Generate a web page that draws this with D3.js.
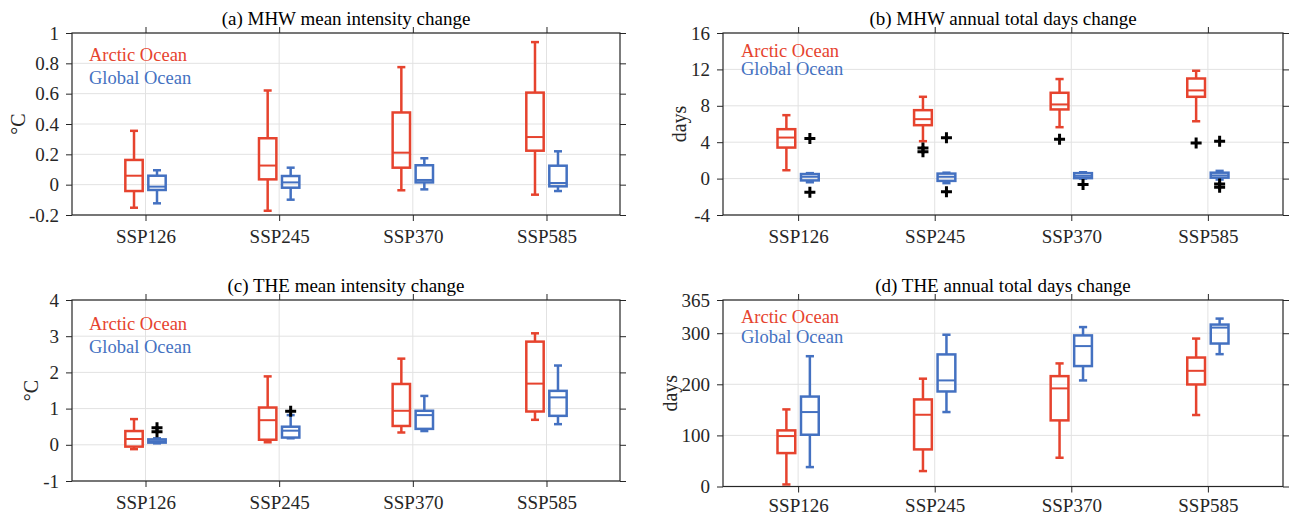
<!DOCTYPE html>
<html>
<head>
<meta charset="utf-8">
<script src="https://cdn.jsdelivr.net/npm/d3@7"></script>
<style>
  body { margin: 0; background: #fff; }
  svg text { font-family: "Liberation Serif", "Times New Roman", serif; }
</style>
</head>
<body>
<svg id="chart" width="1290" height="516"></svg>
<script>
"use strict";
// scenarios on the x axis
var scenarios = ["SSP126", "SSP245", "SSP370", "SSP585"];
var seriesNames = ["Arctic Ocean", "Global Ocean"];

// box stats per scenario: [low whisker, q1, median, q3, high whisker]
var mhwIntArctic = [[-0.152, -0.042, 0.059, 0.163, 0.355], [-0.172, 0.035, 0.126, 0.306, 0.621],
  [-0.037, 0.112, 0.211, 0.476, 0.775], [-0.066, 0.224, 0.314, 0.607, 0.94]];
var mhwIntGlobal = [[-0.123, -0.035, -0.013, 0.059, 0.095], [-0.099, -0.02, 0.015, 0.057, 0.112],
  [-0.031, 0.015, 0.031, 0.128, 0.174], [-0.042, -0.011, 0.011, 0.125, 0.22]];

var mhwDaysArctic = [[0.92, 3.41, 4.51, 5.43, 6.97], [4.11, 5.87, 6.53, 7.52, 8.99],
  [5.65, 7.6, 8.15, 9.43, 10.94], [6.3, 8.99, 9.69, 11.0, 11.85]];
var mhwDaysGlobal = [[-0.4, -0.2, 0.2, 0.5, 0.6], [-0.5, -0.25, 0.2, 0.55, 0.65],
  [0.0, 0.05, 0.3, 0.6, 0.7], [-0.1, 0.1, 0.35, 0.65, 0.85]];
var mhwDaysArcticOut = [[], [3.35, 2.95], [4.33], [3.9]];
var mhwDaysGlobalOut = [[4.4, -1.5], [4.5, -1.45], [-0.65], [4.1, -0.6, -0.95]];

var theIntArctic = [[-0.12, -0.05, 0.16, 0.38, 0.71], [0.07, 0.14, 0.68, 1.03, 1.89],
  [0.34, 0.52, 0.94, 1.68, 2.38], [0.69, 0.92, 1.69, 2.85, 3.08]];
var theIntGlobal = [[0.04, 0.06, 0.1, 0.15, 0.18], [0.18, 0.2, 0.39, 0.5, 0.82],
  [0.38, 0.44, 0.82, 0.94, 1.35], [0.57, 0.8, 1.31, 1.49, 2.19]];
var theIntGlobalOut = [[0.47, 0.36], [0.93], [], []];

var theDaysArctic = [[4, 65.4, 98.7, 109.8, 150.9], [30.2, 72.6, 140.4, 170.4, 211],
  [56.3, 129.4, 192, 216, 240.9], [139.9, 199.7, 226.4, 252.4, 289.5]];
var theDaysGlobal = [[38, 101.3, 145.7, 176, 255], [145.7, 186, 207.6, 258.5, 297],
  [207.6, 235.7, 274.8, 295.7, 312], [259, 279.8, 311, 316.9, 328.6]];

// tick labels
var ticksA = [-0.2, 0, 0.2, 0.4, 0.6, 0.8, 1], labelsA = ["-0.2", "0", "0.2", "0.4", "0.6", "0.8", "1"];
var ticksB = [-4, 0, 4, 8, 12, 16], labelsB = ["-4", "0", "4", "8", "12", "16"];
var ticksC = [-1, 0, 1, 2, 3, 4], labelsC = ["-1", "0", "1", "2", "3", "4"];
var ticksD = [0, 100, 200, 300, 365], labelsD = ["0", "100", "200", "300", "365"];

var red = "#E6432E", blue = "#4471C1", axisC = "#262626", gridC = "#e2e2e2";

var panels = [
  {title: "(a) MHW mean intensity change", ylab: "\u00B0C", x0: 72, x1: 620, y0: 33, y1: 215,
   dom: [-0.2, 1], ticks: ticksA, labels: labelsA, arctic: mhwIntArctic, global: mhwIntGlobal,
   aOut: null, gOut: null, leg: [89, 61, 84], ylx: 18, pad: 9},
  {title: "(b) MHW annual total days change", ylab: "days", x0: 723, x1: 1283, y0: 33, y1: 215,
   dom: [-4, 16], ticks: ticksB, labels: labelsB, arctic: mhwDaysArctic, global: mhwDaysGlobal,
   aOut: mhwDaysArcticOut, gOut: mhwDaysGlobalOut, leg: [741, 57, 75], ylx: 679, pad: 9},
  {title: "(c) THE mean intensity change", ylab: "\u00B0C", x0: 72, x1: 620, y0: 300, y1: 481,
   dom: [-1, 4], ticks: ticksC, labels: labelsC, arctic: theIntArctic, global: theIntGlobal,
   aOut: null, gOut: theIntGlobalOut, leg: [89, 330, 353], ylx: 31, pad: 9},
  {title: "(d) THE annual total days change", ylab: "days", x0: 723, x1: 1283, y0: 300, y1: 486.5,
   dom: [0, 365], ticks: ticksD, labels: labelsD, arctic: theDaysArctic, global: theDaysGlobal,
   aOut: null, gOut: null, leg: [741, 323, 343], ylx: 670, pad: 6}
];

var svg = d3.select("#chart");
var offset = 0.086, boxW = 0.13, capW = 0.06;

function drawBoxes(g, x, y, stats, outs, dx, color) {
  stats.forEach(function(s, i) {
    var cx = x(i + 1 + dx);
    var bw = x(boxW) - x(0), cw = x(capW) - x(0);
    var b = g.append("g").attr("stroke", color).attr("stroke-width", 2.5).attr("fill", "none");
    b.append("line").attr("x1", cx).attr("x2", cx).attr("y1", y(s[3])).attr("y2", y(s[4]));
    b.append("line").attr("x1", cx).attr("x2", cx).attr("y1", y(s[1])).attr("y2", y(s[0]));
    b.append("line").attr("x1", cx - cw / 2).attr("x2", cx + cw / 2).attr("y1", y(s[4])).attr("y2", y(s[4]));
    b.append("line").attr("x1", cx - cw / 2).attr("x2", cx + cw / 2).attr("y1", y(s[0])).attr("y2", y(s[0]));
    b.append("rect").attr("x", cx - bw / 2).attr("width", bw)
      .attr("y", y(s[3])).attr("height", Math.max(0, y(s[1]) - y(s[3])));
    b.append("line").attr("x1", cx - bw / 2).attr("x2", cx + bw / 2).attr("y1", y(s[2])).attr("y2", y(s[2]))
      .attr("stroke-width", 2);
  });
  if (!outs) return;
  outs.forEach(function(list, i) {
    var cx = x(i + 1 + dx);
    list.forEach(function(v) {
      var py = y(v);
      g.append("path").attr("d", "M" + (cx - 5.5) + "," + py + "H" + (cx + 5.5) + "M" + cx + "," + (py - 5.5) + "V" + (py + 5.5))
        .attr("stroke", "#000").attr("stroke-width", 3).attr("fill", "none");
    });
  });
}

panels.forEach(function(p) {
  var x = d3.scaleLinear().domain([0.45, 4.55]).range([p.x0, p.x1]);
  var y = d3.scaleLinear().domain(p.dom).range([p.y1, p.y0]);
  var g = svg.append("g");

  // grid
  g.selectAll(".hg").data(p.ticks).enter().append("line")
    .attr("x1", p.x0).attr("x2", p.x1).attr("y1", function(d) { return y(d); }).attr("y2", function(d) { return y(d); })
    .attr("stroke", gridC).attr("stroke-width", 1);
  g.selectAll(".vg").data([1, 2, 3, 4]).enter().append("line")
    .attr("y1", p.y0).attr("y2", p.y1).attr("x1", function(d) { return x(d); }).attr("x2", function(d) { return x(d); })
    .attr("stroke", gridC).attr("stroke-width", 1);

  drawBoxes(g, x, y, p.arctic, p.aOut, -offset, red);
  drawBoxes(g, x, y, p.global, p.gOut, offset, blue);

  // axes
  var left = g.append("g").attr("transform", "translate(" + p.x0 + ",0)")
    .call(d3.axisLeft(y).tickValues(p.ticks).tickFormat(function(d, i) { return p.labels[i]; })
      .tickSize(6).tickSizeOuter(0).tickPadding(7));
  var right = g.append("g").attr("transform", "translate(" + p.x1 + ",0)")
    .call(d3.axisRight(y).tickValues(p.ticks).tickFormat("").tickSize(6).tickSizeOuter(0));
  var bottom = g.append("g").attr("transform", "translate(0," + p.y1 + ")")
    .call(d3.axisBottom(x).tickValues([1, 2, 3, 4]).tickFormat(function(d) { return scenarios[d - 1]; })
      .tickSize(6).tickSizeOuter(0).tickPadding(p.pad));
  var top = g.append("g").attr("transform", "translate(0," + p.y0 + ")")
    .call(d3.axisTop(x).tickValues([1, 2, 3, 4]).tickFormat("").tickSize(6).tickSizeOuter(0));
  [left, right, bottom, top].forEach(function(a) {
    a.select(".domain").remove();
    a.selectAll(".tick line").attr("stroke", axisC);
    a.selectAll("text").attr("fill", axisC).style("font-size", "19px")
      .style("font-family", "'Liberation Serif', serif");
  });
  g.append("rect").attr("x", p.x0).attr("y", p.y0).attr("width", p.x1 - p.x0).attr("height", p.y1 - p.y0)
    .attr("fill", "none").attr("stroke", axisC).attr("stroke-width", 1.2);

  // title
  g.append("text").attr("x", (p.x0 + p.x1) / 2).attr("y", p.y0 - 8).attr("text-anchor", "middle")
    .style("font-size", "19px").attr("fill", "#000").text(p.title);
  // y label
  g.append("text").attr("transform", "translate(" + p.ylx + "," + ((p.y0 + p.y1) / 2) + ") rotate(-90)")
    .attr("text-anchor", "middle").attr("dy", "0.35em").style("font-size", "20px").attr("fill", axisC).text(p.ylab);
  // legend
  g.append("text").attr("x", p.leg[0]).attr("y", p.leg[1]).style("font-size", "18.5px").attr("fill", red).text(seriesNames[0]);
  g.append("text").attr("x", p.leg[0]).attr("y", p.leg[2]).style("font-size", "18.5px").attr("fill", blue).text(seriesNames[1]);
});
</script>
</body>
</html>
